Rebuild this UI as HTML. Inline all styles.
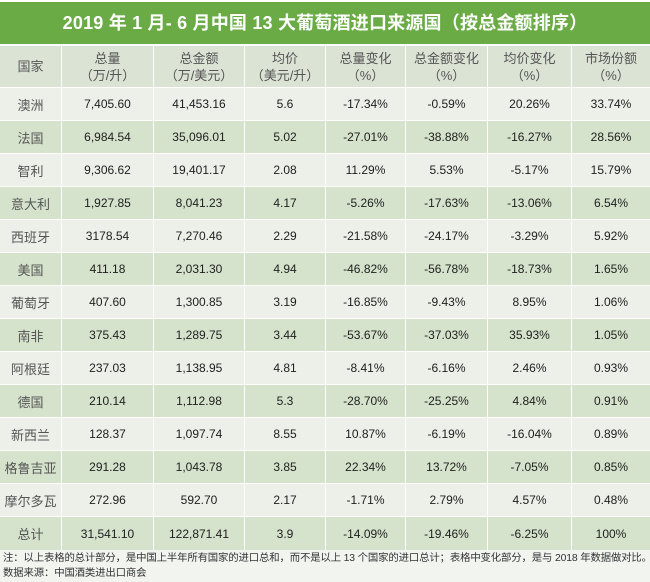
<!DOCTYPE html>
<html><head><meta charset="utf-8"><style>
*{margin:0;padding:0;box-sizing:border-box}
body{width:650px;height:582px;overflow:hidden;background:#fff;font-family:"Liberation Sans","Noto Sans CJK SC",sans-serif;position:relative}
.title{position:absolute;left:0;top:2px;width:650px;height:42px;background:#6aab46;color:#fff;font-weight:bold;font-size:18px;line-height:42px;text-align:center;letter-spacing:0.2px}
.row{position:absolute;left:0;width:650px;display:flex}
.row div{height:100%;display:flex;align-items:center;justify-content:center;text-align:center;border-right:1px solid #fff;font-size:12px;color:#1e1e1e}
.row div:last-child{border-right:none}
.row div:first-child{color:#555;font-size:13px}
.hdr div{color:#555;font-size:13px;line-height:17px;flex-direction:column}
.hdr{background:#dbe3d5}
.l{background:#ecf0e9}
.d{background:#d6e3cc}
.c0{width:62px}.c1{width:92px}.c2{width:91px}.c3{width:81px}.c4{width:80px}.c5{width:82px}.c6{width:84px}.c7{width:78px}
.note{position:absolute;left:0;top:550px;width:650px;height:32px;background:#f1f4ef;font-size:10.4px;color:#333;line-height:15px;padding:1px 0 0 3px;white-space:nowrap;letter-spacing:-0.15px;overflow:hidden}
</style></head><body>
<div class="title">2019 年 1 月- 6 月中国 13 大葡萄酒进口来源国（按总金额排序）</div>

<div class="row hdr" style="top:46px;height:41px">
<div class="c0">国家</div><div class="c1">总量<br>（万/升）</div><div class="c2">总金额<br>（万/美元）</div><div class="c3">均价<br>（美元/升）</div><div class="c4">总量变化<br>（%）</div><div class="c5">总金额变化<br>（%）</div><div class="c6">均价变化<br>（%）</div><div class="c7">市场份额<br>（%）</div>
</div>

<div class="row l" style="top:88px;height:32px"><div class="c0">澳洲</div><div class="c1">7,405.60</div><div class="c2">41,453.16</div><div class="c3">5.6</div><div class="c4">-17.34%</div><div class="c5">-0.59%</div><div class="c6">20.26%</div><div class="c7">33.74%</div></div>
<div class="row d" style="top:121px;height:32px"><div class="c0">法国</div><div class="c1">6,984.54</div><div class="c2">35,096.01</div><div class="c3">5.02</div><div class="c4">-27.01%</div><div class="c5">-38.88%</div><div class="c6">-16.27%</div><div class="c7">28.56%</div></div>
<div class="row l" style="top:154px;height:32px"><div class="c0">智利</div><div class="c1">9,306.62</div><div class="c2">19,401.17</div><div class="c3">2.08</div><div class="c4">11.29%</div><div class="c5">5.53%</div><div class="c6">-5.17%</div><div class="c7">15.79%</div></div>
<div class="row d" style="top:187px;height:32px"><div class="c0">意大利</div><div class="c1">1,927.85</div><div class="c2">8,041.23</div><div class="c3">4.17</div><div class="c4">-5.26%</div><div class="c5">-17.63%</div><div class="c6">-13.06%</div><div class="c7">6.54%</div></div>
<div class="row l" style="top:220px;height:32px"><div class="c0">西班牙</div><div class="c1">3178.54</div><div class="c2">7,270.46</div><div class="c3">2.29</div><div class="c4">-21.58%</div><div class="c5">-24.17%</div><div class="c6">-3.29%</div><div class="c7">5.92%</div></div>
<div class="row d" style="top:253px;height:32px"><div class="c0">美国</div><div class="c1">411.18</div><div class="c2">2,031.30</div><div class="c3">4.94</div><div class="c4">-46.82%</div><div class="c5">-56.78%</div><div class="c6">-18.73%</div><div class="c7">1.65%</div></div>
<div class="row l" style="top:286px;height:32px"><div class="c0">葡萄牙</div><div class="c1">407.60</div><div class="c2">1,300.85</div><div class="c3">3.19</div><div class="c4">-16.85%</div><div class="c5">-9.43%</div><div class="c6">8.95%</div><div class="c7">1.06%</div></div>
<div class="row d" style="top:319px;height:32px"><div class="c0">南非</div><div class="c1">375.43</div><div class="c2">1,289.75</div><div class="c3">3.44</div><div class="c4">-53.67%</div><div class="c5">-37.03%</div><div class="c6">35.93%</div><div class="c7">1.05%</div></div>
<div class="row l" style="top:352px;height:32px"><div class="c0">阿根廷</div><div class="c1">237.03</div><div class="c2">1,138.95</div><div class="c3">4.81</div><div class="c4">-8.41%</div><div class="c5">-6.16%</div><div class="c6">2.46%</div><div class="c7">0.93%</div></div>
<div class="row d" style="top:385px;height:32px"><div class="c0">德国</div><div class="c1">210.14</div><div class="c2">1,112.98</div><div class="c3">5.3</div><div class="c4">-28.70%</div><div class="c5">-25.25%</div><div class="c6">4.84%</div><div class="c7">0.91%</div></div>
<div class="row l" style="top:418px;height:32px"><div class="c0">新西兰</div><div class="c1">128.37</div><div class="c2">1,097.74</div><div class="c3">8.55</div><div class="c4">10.87%</div><div class="c5">-6.19%</div><div class="c6">-16.04%</div><div class="c7">0.89%</div></div>
<div class="row d" style="top:451px;height:32px"><div class="c0">格鲁吉亚</div><div class="c1">291.28</div><div class="c2">1,043.78</div><div class="c3">3.85</div><div class="c4">22.34%</div><div class="c5">13.72%</div><div class="c6">-7.05%</div><div class="c7">0.85%</div></div>
<div class="row l" style="top:484px;height:32px"><div class="c0">摩尔多瓦</div><div class="c1">272.96</div><div class="c2">592.70</div><div class="c3">2.17</div><div class="c4">-1.71%</div><div class="c5">2.79%</div><div class="c6">4.57%</div><div class="c7">0.48%</div></div>
<div class="row d" style="top:517px;height:33px"><div class="c0">总计</div><div class="c1">31,541.10</div><div class="c2">122,871.41</div><div class="c3">3.9</div><div class="c4">-14.09%</div><div class="c5">-19.46%</div><div class="c6">-6.25%</div><div class="c7">100%</div></div>

<div class="note">注：以上表格的总计部分，是中国上半年所有国家的进口总和，而不是以上 13 个国家的进口总计；表格中变化部分，是与 2018 年数据做对比。<br>数据来源：中国酒类进出口商会</div>
</body></html>
